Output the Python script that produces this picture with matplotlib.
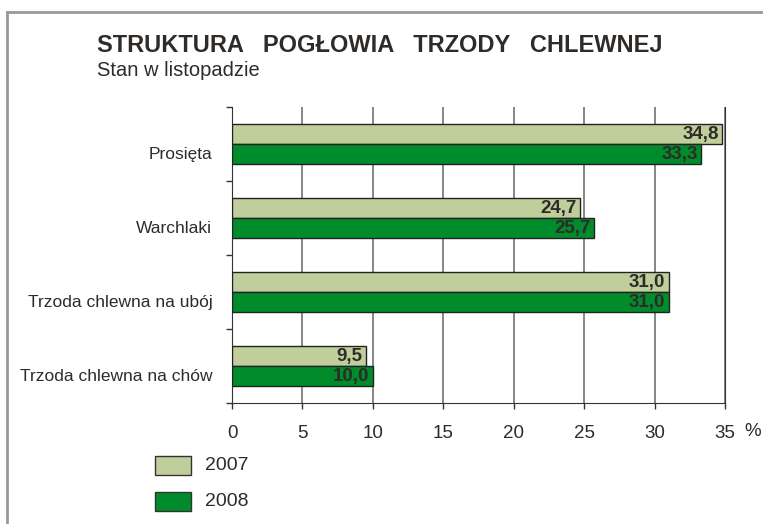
import numpy as np
import matplotlib.pyplot as plt
from matplotlib.patches import Rectangle

plt.rcParams['font.family'] = ['Liberation Sans', 'DejaVu Sans']

categories = ['Prosięta', 'Warchlaki', 'Trzoda chlewna na ubój', 'Trzoda chlewna na chów']
v2007 = [34.8, 24.7, 31.0, 9.5]
v2008 = [33.3, 25.7, 31.0, 10.0]
years = ['2007', '2008']
xticks = [0, 5, 10, 15, 20, 25, 30, 35]

c07 = '#bfce9a'
c08 = '#008c2a'
txt = '#2f2b28'

fig = plt.figure(figsize=(7.63, 5.24), dpi=100)
ax = fig.add_axes([232/763, 1 - 403/524, (725-232)/763, (403-107)/524])

y = np.arange(len(categories)) + 0.5
h = 0.27
ax.barh(y - h/2, v2007, height=h, color=c07, edgecolor='#222222', linewidth=1, zorder=3)
ax.barh(y + h/2, v2008, height=h, color=c08, edgecolor='#222222', linewidth=1, zorder=3)

for yy, a, b in zip(y, v2007, v2008):
    ax.text(a - 0.25, yy - h/2 + 0.01, f'{a:.1f}'.replace('.', ','), ha='right', va='center',
            fontsize=13.5, fontweight='bold', color=txt, zorder=4)
    ax.text(b - 0.25, yy + h/2 + 0.01, f'{b:.1f}'.replace('.', ','), ha='right', va='center',
            fontsize=13.5, fontweight='bold', color=txt, zorder=4)

ax.set_xlim(0, 35)
ax.set_ylim(len(categories), 0)
ax.set_xticks(xticks)
ax.set_xticklabels([str(t) for t in xticks], fontsize=13.5, color=txt)
ax.tick_params(axis='x', length=4, width=1, color='#333333', pad=12)
ax.set_yticks(np.arange(len(categories) + 1))
ax.set_yticklabels([])
ax.tick_params(axis='y', length=4, width=1, color='#333333')
ax.grid(axis='x', color='#6e7470', linewidth=1.2, zorder=0)
ax.spines['top'].set_visible(False)
for s in ['right', 'left', 'bottom']:
    ax.spines[s].set_color('#333333')

for yy, name in zip(y, categories):
    ax.text(-1.4, yy + 0.14, name, ha='right', va='center', fontsize=12.5, color=txt)

fig.text(753/763, 1 - 432/524, '%', ha='center', va='center', fontsize=13.5, color=txt)

fig.text(97/763, 1 - 46/524, 'STRUKTURA   POGŁOWIA   TRZODY   CHLEWNEJ', ha='left', va='center',
         fontsize=17, fontweight='bold', color=txt)
fig.text(97/763, 1 - 70/524, 'Stan w listopadzie', ha='left', va='center', fontsize=14.5, color=txt)

# legend
for i, (lab, col) in enumerate(zip(years, [c07, c08])):
    yb = 456 + i * 36
    fig.add_artist(Rectangle((155/763, 1 - (yb + 19)/524), 36/763, 19/524, transform=fig.transFigure,
                             facecolor=col, edgecolor='#333333', linewidth=1))
    fig.text(205/763, 1 - (yb + 10)/524, lab, ha='left', va='center', fontsize=14, color=txt)

# outer frame
fig.add_artist(plt.Line2D([7/763, 1], [1 - 12/524, 1 - 12/524], transform=fig.transFigure,
                          color='#999999', linewidth=2))
fig.add_artist(plt.Line2D([7/763, 7/763], [0, 1 - 12/524], transform=fig.transFigure,
                          color='#999999', linewidth=2))

fig.savefig('out.png', dpi=100)
